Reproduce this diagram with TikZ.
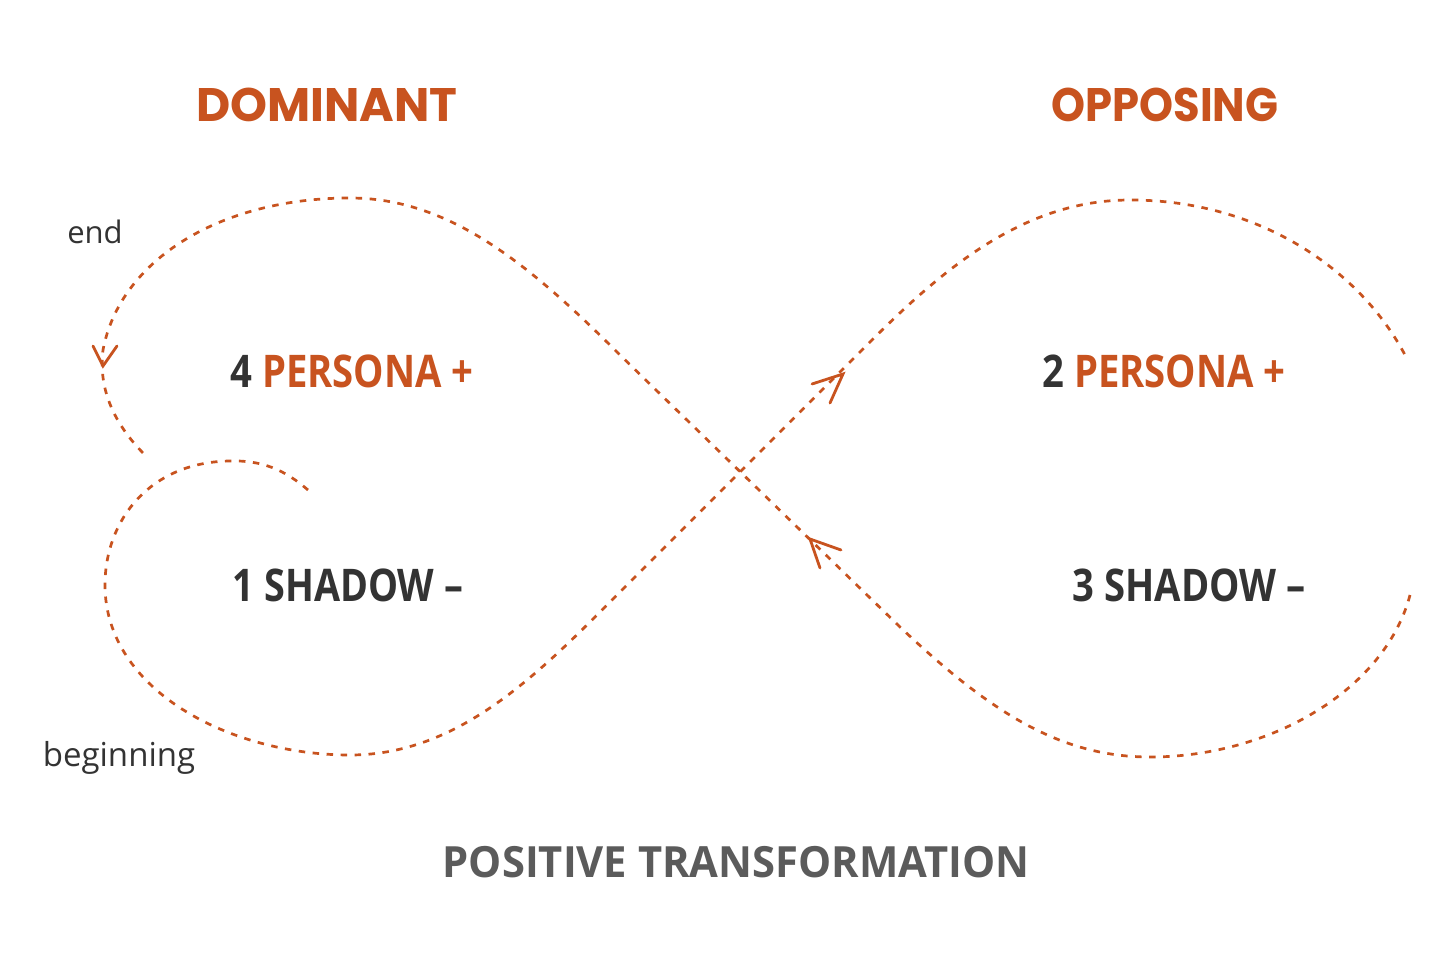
\documentclass[tikz,border=0pt]{standalone}
\usepackage{fontspec}
\setmainfont{Open Sans}
\newfontfamily\headfont{Poppins}
\definecolor{rust}{HTML}{C8531F}
\definecolor{ink}{HTML}{333333}
\definecolor{greytext}{HTML}{5B5B5B}
\tikzset{
  loopline/.style={draw=rust, line width=2.7pt, dash pattern=on 6.5pt off 7.5pt},
  vtip/.style={draw=rust, line width=2.8pt, line cap=round, line join=miter},
  head/.style={inner sep=0pt, text=rust, font=\headfont\bfseries\fontsize{47}{50}\selectfont},
  stage/.style={inner sep=0pt, text=ink, font=\bfseries\fontsize{45}{50}\selectfont},
  small/.style={inner sep=0pt, text=ink, font=\fontsize{31}{34}\selectfont},
  foot/.style={inner sep=0pt, text=greytext, font=\bfseries\fontsize{43}{48}\selectfont}
}
\begin{document}
\begin{tikzpicture}[x=1pt,y=-1pt]
\useasboundingbox[fill=white] (0,0) rectangle (1456,971);
% headings
\node[head] (dom) at (327,105) {DOMINANT};
\node[head] (opp) at (1165,105) {\scalebox{0.92}[1]{OPPOSING}};
% stages
\node[stage] (p4) at (352,371) {\scalebox{0.85}[1]{4 \textcolor{rust}{PERSONA +}}};
\node[stage] (s1) at (348,585) {\scalebox{0.84}[1]{1 SHADOW –}};
\node[stage] (p2) at (1164,371) {\scalebox{0.85}[1]{2 \textcolor{rust}{PERSONA +}}};
\node[stage] (s3) at (1189,585) {\scalebox{0.85}[1]{3 SHADOW –}};
% labels
\node[small] (endl) at (95,232) {end};
\node[small] (begl) at (119,758) {\fontsize{33}{36}\selectfont beginning};
\node[foot] (pt) at (736,862) {\scalebox{0.97}[1]{POSITIVE TRANSFORMATION}};
% key coordinates
\coordinate (start) at (308,490);
\coordinate (ltop1) at (230,461);
\coordinate (lleft1) at (105,585);
\coordinate (lbot) at (350,755);
\coordinate (riseA) at (600,612);
\coordinate (riseB) at (870,342);
\coordinate (rtop) at (1130,200);
\coordinate (rend1) at (1405,355);
\coordinate (rstart2) at (1410,595);
\coordinate (rbot) at (1150,757);
\coordinate (fallA) at (900,627);
\coordinate (fallB) at (620,355);
\coordinate (ltop2) at (350,198);
\coordinate (lleft2) at (103,350);
\coordinate (finish) at (145,455);
% first stroke: beginning -> lower-left loop -> up across -> right upper loop
\draw[loopline] (start) .. controls (285,470) and (262,460) .. (ltop1)
  .. controls (150,462) and (105,520) .. (lleft1)
  .. controls (105,690) and (230,755) .. (lbot)
  .. controls (450,755) and (525,687) .. (riseA)
  -- (riseB)
  .. controls (945,267) and (1025,200) .. (rtop)
  .. controls (1260,200) and (1360,270) .. (rend1);
% second stroke: right lower loop -> up across -> left upper loop -> end
\draw[loopline] (rstart2) .. controls (1385,690) and (1270,757) .. (rbot)
  .. controls (1060,757) and (990,712) .. (fallA)
  -- (fallB)
  .. controls (530,265) and (450,198) .. (ltop2)
  .. controls (220,198) and (120,260) .. (lleft2)
  .. controls (98,390) and (115,425) .. (finish);
% arrowheads
\coordinate (a1) at (103,366);
\draw[vtip] (93,346) -- (a1) -- (117,346);
\coordinate (a2) at (843,374);
\draw[vtip] (812,384) -- (a2) -- (830,403);
\coordinate (a3) at (810,539);
\draw[vtip] (841,550) -- (a3) -- (820,568);
\end{tikzpicture}
\end{document}
